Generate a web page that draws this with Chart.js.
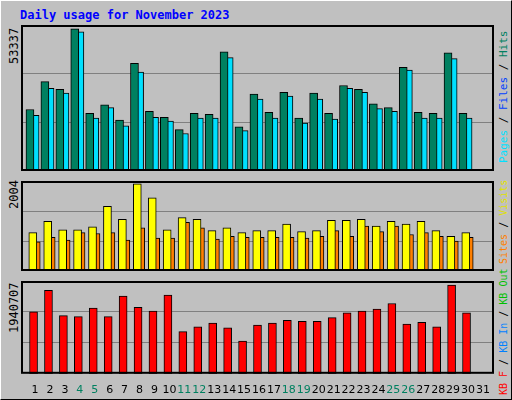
<!DOCTYPE html>
<html><head><meta charset="utf-8">
<script src="https://cdn.jsdelivr.net/npm/chart.js@4"></script>
<style>
body{margin:0;background:#fff}
#frame{position:relative;width:510px;height:398px;background:#c0c0c0;border-top:1px solid #fff;border-left:1px solid #fff;border-right:1px solid #000;border-bottom:1px solid #000;overflow:hidden;font-family:"DejaVu Sans Mono",monospace}
#title{position:absolute;left:19px;top:7px;color:#0000ff;font-weight:bold;font-size:12px}
canvas{position:absolute}
.vl{position:absolute;transform-origin:0 0;transform:rotate(-90deg);white-space:nowrap;font-size:12px}
</style></head><body>
<div id="frame">
<div id="title">Daily usage for November 2023</div>
<canvas id="c1" style="left:20px;top:24px" width="473" height="154"></canvas>
<canvas id="c2" style="left:20px;top:180px" width="473" height="98"></canvas>
<canvas id="c3" style="left:20px;top:280px" width="473" height="118"></canvas>
<div class="vl" style="left:6px;top:63px">53337</div>
<div class="vl" style="left:6px;top:208px">2004</div>
<div class="vl" style="left:6px;top:332px">1940707</div>
<div class="vl" style="left:496px;top:162px;font-size:11px"><span style="color:#00e0ff">Pages</span> / <span style="color:#0040ff">Files</span> / <span style="color:#008060">Hits</span></div>
<div class="vl" style="left:497px;top:263px;font-size:10px"><span style="color:#ff8000">Sites</span> / <span style="color:#e0e000">Visits</span></div>
<div class="vl" style="left:497px;top:394px;font-size:10px"><span style="color:#ff0000">KB F</span> / <span style="color:#0080ff">KB In</span> / <span style="color:#00c000">KB Out</span></div>
</div>
<script>
const days = Array.from({length: 31}, (_, i) => i + 1);
const weekend = [4, 5, 11, 12, 18, 19, 25, 26];
const hits = [23065,33516,30633,53337,21623,24867,19101,40364,22344,20182,15497,21623,21263,44688,16578,28831,21984,29552,19821,29192,21623,32075,30633,25227,23786,38922,21984,21623,44328,21623,0];
const files = [19800,29600,27900,49900,18800,22500,16100,35600,19100,17700,13300,18800,18800,40800,14300,25700,18800,26800,17000,25700,18400,29600,28100,22200,21200,36300,18800,18800,40500,18800,0];
const pages = [20903,30994,29192,52257,19821,23786,16938,37120,20182,18740,14055,19821,19821,42526,15136,27029,19821,28110,18019,27029,19461,30994,29552,23425,22344,37841,19821,19821,42165,19821,0];
const visits = [883,1142,948,948,1013,1487,1185,2004,1681,948,1228,1185,927,991,883,927,927,1077,905,927,1164,1164,1185,1034,1142,1077,1142,927,797,883,0];
const sites = [668,776,711,883,862,883,711,991,754,754,1121,991,733,797,776,776,776,776,754,797,927,797,1034,905,1034,840,883,797,690,776,0];
const kbytes = [1352538,1823877,1270566,1250073,1434510,1250073,1700919,1455003,1373031,1721412,922185,1024650,1106622,1004157,717255,1065636,1106622,1168101,1147608,1147608,1229580,1332045,1373031,1414017,1536975,1086129,1127115,1024650,1940707,1332045,0];

const frameBox = {
  id: 'frameBox',
  beforeDraw(c) {
    const a = c.chartArea, x = c.ctx;
    x.save(); x.fillStyle = '#c0c0c0'; x.fillRect(a.left, a.top, a.width, a.height); x.restore();
  },
  afterDraw(c) {
    const a = c.chartArea, x = c.ctx;
    x.save(); x.strokeStyle = '#000'; x.lineWidth = 2;
    x.strokeRect(a.left + 1, a.top + 1, a.width - 2, a.height - 2); x.restore();
  }
};

// later datasets are drawn on top
function ds(vals, off, w, color) {
  return { data: days.map((d, i) => ({x: d + off, y: vals[i]})), backgroundColor: color,
    borderColor: '#000', borderWidth: 1, barThickness: w, grouped: false, borderSkipped: false };
}

function makeChart(id, sets, max, showX) {
  new Chart(document.getElementById(id), {
    type: 'bar',
    data: { datasets: sets },
    plugins: [frameBox],
    options: {
      responsive: false, animation: false,
      layout: { padding: 0 },
      plugins: { legend: { display: false }, tooltip: { enabled: false } },
      scales: {
        x: { type: 'linear', min: 0.06, max: 31.74, offset: false,
          grid: { display: false }, border: { display: false },
          afterBuildTicks: s => { s.ticks = days.map(v => ({value: v})); },
          ticks: { display: showX, autoSkip: false, maxRotation: 0, padding: 2,
            font: { family: 'DejaVu Sans', size: 11 },
            color: c => weekend.includes(c.tick.value) ? '#008060' : '#000' } },
        y: { min: 0, max: max, grid: { color: '#808080', drawTicks: false, lineWidth: 1 },
          border: { display: false },
          afterBuildTicks: s => { s.ticks = [{value: max / 3}, {value: max * 2 / 3}]; },
          ticks: { display: false } }
      }
    }
  });
}

makeChart('c1', [ds(hits, -0.34, 8, '#008060'), ds(files, -0.3, 4, '#0040ff'), ds(pages, -0.03, 9, '#00e0ff')], 54779, false);
makeChart('c2', [ds(visits, -0.15, 8, '#ffff00'), ds(sites, 0.08, 8, '#ff8000')], 2069, false);
makeChart('c3', [ds(kbytes, -0.1, 8, '#ff0000')], 2028800, true);
</script>
</body></html>
